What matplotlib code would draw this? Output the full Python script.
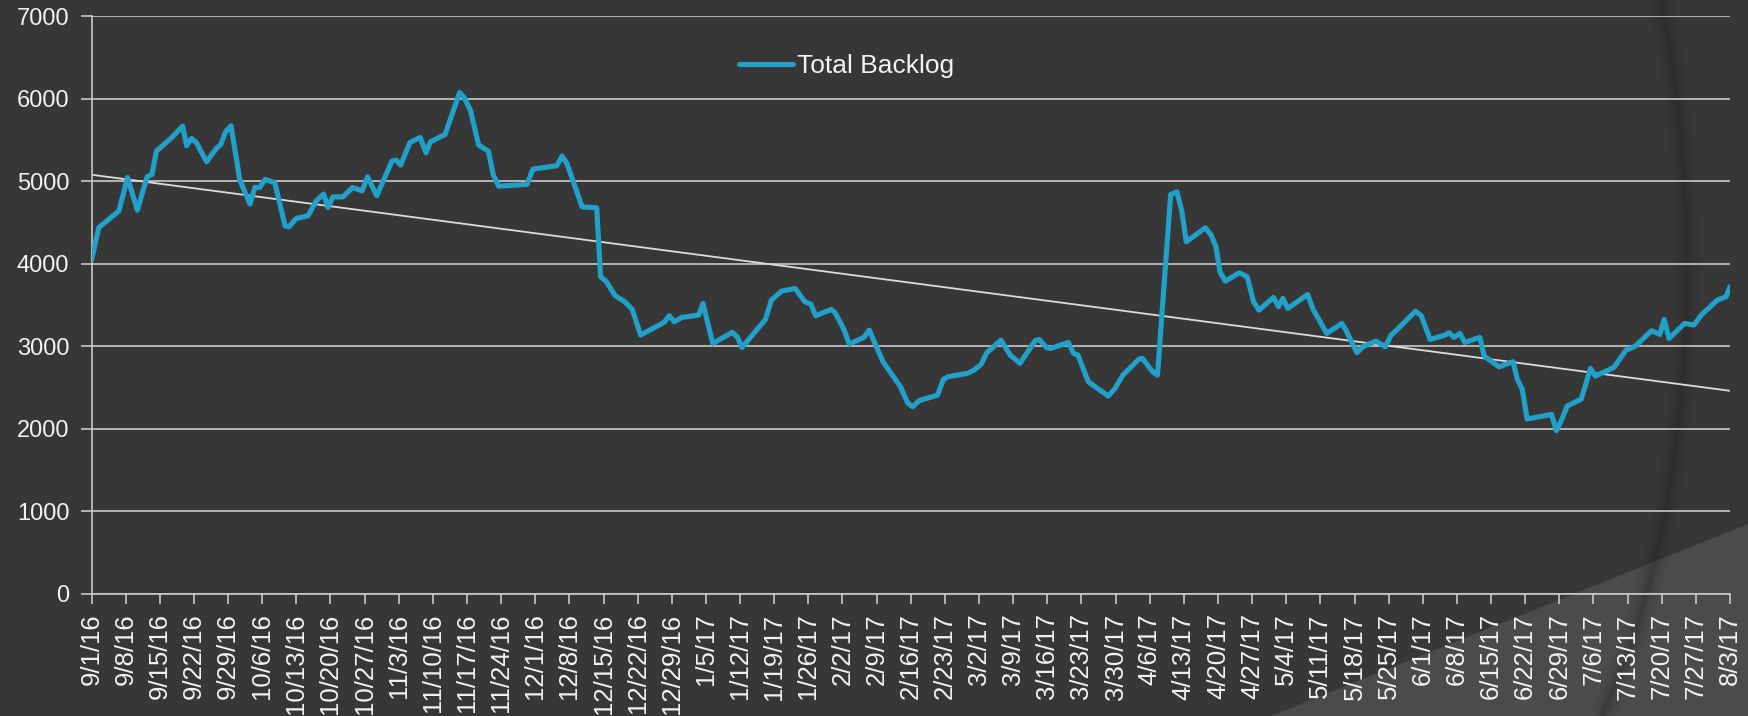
import numpy as np
import pandas as pd
import matplotlib
matplotlib.use("Agg")
from matplotlib import pyplot as plt
import matplotlib.dates as mdates
from matplotlib.path import Path
from matplotlib.patches import Polygon, PathPatch
from matplotlib.ticker import FuncFormatter

# days after 9/1/16 and the backlog
days_since_start = [
    0.0, 1.5, 5.6, 7.4, 9.4, 11.4, 12.4, 13.3, 16.4, 18.7, 19.5, 20.5, 21.5, 23.6,
    25.6, 26.5, 27.5, 28.6, 30.4, 32.5, 33.5, 34.5, 35.6, 37.6, 39.7, 40.5, 42.0,
    44.4, 46.1, 47.6, 48.5, 49.5, 51.6, 53.5, 55.5, 56.6, 58.5, 61.6, 62.5, 63.4,
    65.3, 67.4, 68.6, 69.5, 72.5, 75.5, 76.4, 77.7, 79.4, 81.4, 82.4, 83.5, 89.3,
    90.5, 95.4, 96.5, 97.5, 100.6, 103.6, 104.4, 105.5, 107.4, 109.4, 110.9, 111.6,
    112.6, 117.4, 118.5, 119.5, 121.0, 124.5, 125.4, 127.4, 131.4, 132.4, 133.4,
    138.2, 139.4, 141.5, 144.3, 146.3, 147.5, 148.5, 151.7, 152.5, 154.3, 155.4,
    158.4, 159.5, 162.3, 165.9, 167.4, 168.4, 169.7, 173.5, 174.7, 175.6, 179.6,
    181.0, 182.4, 183.6, 186.5, 188.4, 190.4, 193.5, 194.3, 195.9, 196.7, 200.3,
    201.4, 202.3, 204.4, 208.5, 209.9, 211.5, 214.8, 215.5, 217.6, 218.6, 221.3,
    222.6, 223.6, 224.5, 228.4, 229.6, 230.6, 231.4, 232.5, 235.4, 237.0, 238.3,
    239.4, 242.4, 243.4, 244.3, 245.3, 249.4, 250.5, 251.5, 253.3, 256.4, 257.3,
    259.5, 260.7, 263.4, 265.3, 266.5, 267.5, 271.5, 272.7, 274.5, 277.6, 278.4,
    279.4, 280.6, 281.6, 284.7, 285.6, 288.6, 291.5, 292.4, 293.4, 294.4, 299.4,
    300.4, 301.4, 302.6, 305.5, 307.4, 308.4, 312.2, 314.7, 316.6, 319.9, 321.6,
    322.5, 323.5, 326.7, 328.6, 330.1, 333.4, 335.2, 336.0,
]
total_backlog = [
    4043, 4439, 4637, 5044, 4649, 5052, 5081, 5363, 5525, 5666, 5428, 5517, 5468, 5234,
    5396, 5444, 5597, 5670, 5020, 4722, 4923, 4923, 5020, 4980, 4459, 4447, 4548,
    4580, 4762, 4843, 4681, 4810, 4810, 4923, 4883, 5052, 4822, 5242, 5254, 5194,
    5468, 5529, 5343, 5476, 5565, 6073, 6013, 5860, 5436, 5363, 5073, 4939, 4960,
    5145, 5186, 5303, 5214, 4689, 4677, 3842, 3789, 3612, 3539, 3446, 3317,
    3136, 3289, 3370, 3297, 3349, 3378, 3519, 3035, 3168, 3115, 2986,
    3325, 3559, 3668, 3700, 3539, 3511, 3370, 3446, 3406, 3204, 3027,
    3107, 3196, 2813, 2510, 2310, 2268, 2341, 2409, 2599, 2631, 2672,
    2712, 2780, 2922, 3075, 2893, 2793, 3067, 3083, 2982, 2974, 3047,
    2914, 2893, 2571, 2397, 2490, 2651, 2845, 2853, 2692, 2651, 4839,
    4871, 4629, 4266, 4435, 4346, 4205, 3902, 3789, 3890, 3842, 3539,
    3438, 3592, 3479, 3580, 3458, 3628, 3446, 3345, 3156, 3277, 3188,
    2922, 2994, 3063, 2994, 3136, 3188, 3426, 3370, 3083, 3136, 3164,
    3107, 3156, 3047, 3107, 2881, 2752, 2813, 2599, 2478, 2119, 2175,
    1977, 2098, 2276, 2361, 2732, 2639, 2744, 2954, 3002, 3188, 3144,
    3325, 3095, 3277, 3257, 3378, 3559, 3600, 3721,
]
start_date = "2016-09-01"
end_date = "2017-08-03"
y_ticks = [0, 1000, 2000, 3000, 4000, 5000, 6000, 7000]
series_name = "Total Backlog"

bg = "#373737"
fg = "#f2f2f2"
grid_c = "#c9c9c9"
line_c = "#21a0c9"

plt.rcParams["font.family"] = ["Liberation Sans", "DejaVu Sans"]

fig = plt.figure(figsize=(17.48, 7.16), dpi=100, facecolor=bg)

# slide decoration: lighter wedge bottom right and a soft arc shadow
W, H = 1748.0, 716.0
wedge = Polygon([(1271 / W, 0), (1.0, (H - 524) / H), (1.0, 0)], closed=True,
                transform=fig.transFigure, facecolor="#4b4b4b", edgecolor="none", zorder=0)
fig.add_artist(wedge)
arc = Path([(1661 / W, 1.0), (1702 / W, 0.72), (1702 / W, 0.30), (1602 / W, 0.0)],
           [Path.MOVETO, Path.CURVE4, Path.CURVE4, Path.CURVE4])
for lw, a in [(18, 0.05), (12, 0.07), (7, 0.09), (3, 0.12)]:
    fig.add_artist(PathPatch(arc, transform=fig.transFigure, facecolor="none",
                             edgecolor="#1e1e1e", lw=lw, alpha=a, zorder=0))

ax = fig.add_axes([91.5 / W, 1 - 594 / H, (1730 - 91.5) / W, (594 - 16) / H])
ax.set_facecolor("none")

t0 = pd.Timestamp(start_date)
x = [t0 + pd.Timedelta(days=d) for d in days_since_start]
xn = mdates.date2num(x)

ax.plot(xn, total_backlog, color=line_c, lw=3.7, solid_joinstyle="round",
        solid_capstyle="round", label=series_name, zorder=3)

# linear trendline like Excel
k, b = np.polyfit(xn, total_backlog, 1)
x_end = mdates.date2num(pd.Timestamp(end_date))
x_start = mdates.date2num(t0)
tx = np.array([x_start, x_end])
ax.plot(tx, k * tx + b, color="#dcdcdc", lw=1.3, zorder=2)

ax.set_xlim(x_start, x_end)
ax.set_ylim(0, 7000)
ax.set_yticks(y_ticks)
weekly = mdates.date2num(pd.date_range(start_date, end_date, freq="7D"))
ax.set_xticks(weekly)
ax.xaxis.set_major_formatter(FuncFormatter(
    lambda v, p: "{d.month}/{d.day}/{yy}".format(d=mdates.num2date(v), yy=mdates.num2date(v).year % 100)))

ax.grid(axis="y", color=grid_c, lw=1.2)
ax.set_axisbelow(True)
for s in ["top", "right"]:
    ax.spines[s].set_visible(False)
for s in ["left", "bottom"]:
    ax.spines[s].set_color(grid_c)
    ax.spines[s].set_linewidth(1.2)
ax.tick_params(axis="both", colors=grid_c, labelcolor=fg, width=1.2)
ax.tick_params(axis="x", length=7, rotation=90, pad=7, labelsize=18.5)
ax.tick_params(axis="y", length=8, pad=8, labelsize=17)
for lab in ax.get_xticklabels():
    lab.set_ha("center")
    lab.set_va("top")

ax.legend(loc="center left", bbox_to_anchor=((739 - 91.5) / (1730 - 91.5), (594 - 66) / 578),
          frameon=False, fontsize=19, labelcolor=fg, handlelength=2.05,
          handletextpad=0.15, borderpad=0, borderaxespad=0)

fig.savefig("out.png", dpi=100, facecolor=bg)
